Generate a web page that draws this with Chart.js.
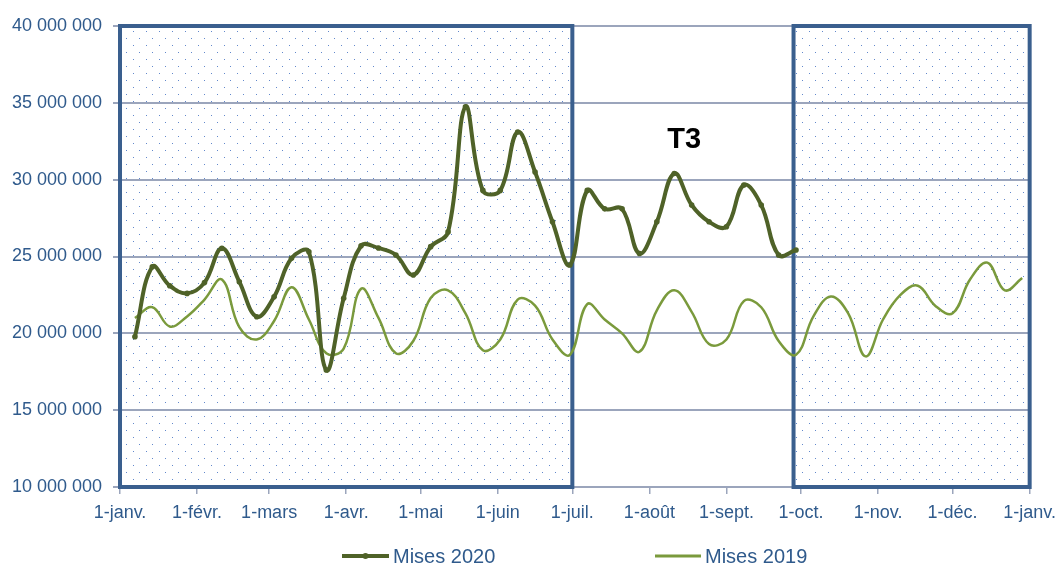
<!DOCTYPE html>
<html><head><meta charset="utf-8">
<script src="https://cdn.jsdelivr.net/npm/chart.js@4/dist/chart.umd.min.js"></script>
<style>html,body{margin:0;padding:0;background:#fff;}#wrap{width:1064px;height:565px;}</style>
</head><body><div id="wrap"><canvas id="c" width="1064" height="565"></canvas></div>
<script>
// Weekly dates (shared x categories)
const weeks = ['2020-01-07','2020-01-14','2020-01-21','2020-01-28','2020-02-04','2020-02-11','2020-02-18','2020-02-25',
 '2020-03-03','2020-03-10','2020-03-17','2020-03-24','2020-03-31','2020-04-07','2020-04-14','2020-04-21','2020-04-28',
 '2020-05-05','2020-05-12','2020-05-19','2020-05-26','2020-06-02','2020-06-09','2020-06-16','2020-06-23','2020-06-30',
 '2020-07-07','2020-07-14','2020-07-21','2020-07-28','2020-08-04','2020-08-11','2020-08-18','2020-08-25',
 '2020-09-01','2020-09-08','2020-09-15','2020-09-22','2020-09-29','2020-10-06','2020-10-13','2020-10-20','2020-10-27',
 '2020-11-03','2020-11-10','2020-11-17','2020-11-24','2020-12-01','2020-12-08','2020-12-15','2020-12-22','2020-12-29'];

const mises2020 = [19780000,24330000,23100000,22600000,23300000,25530000,23360000,21080000,22380000,24880000,25310000,17610000,
 22280000,25700000,25550000,25100000,23800000,25640000,26600000,34750000,29300000,29300000,33100000,30500000,27260000,24450000,
 29300000,28100000,28100000,25200000,27260000,30400000,28350000,27260000,26940000,29650000,28350000,25100000,25420000];

const mises2019 = [21000000,21700000,20450000,21100000,22200000,23500000,20400000,19600000,20800000,23000000,20900000,18700000,
 19000000,22900000,21000000,18700000,19500000,22300000,22800000,21300000,18900000,19600000,22200000,21800000,19600000,18600000,
 21900000,20900000,20000000,18800000,21500000,22800000,21400000,19300000,19600000,22100000,21700000,19500000,18600000,21100000,
 22400000,21300000,18500000,20900000,22500000,23100000,21800000,21300000,23500000,24600000,22800000,23600000];

const seriesNames = ['Mises 2020','Mises 2019'];
const monthTicks = ['2020-01-01','2020-02-01','2020-03-01','2020-04-01','2020-05-01','2020-06-01','2020-07-01',
 '2020-08-01','2020-09-01','2020-10-01','2020-11-01','2020-12-01','2021-01-01'];
const monthLabels = ['1-janv.','1-févr.','1-mars','1-avr.','1-mai','1-juin','1-juil.','1-août','1-sept.','1-oct.','1-nov.','1-déc.','1-janv.'];
const yTicks = [10000000,15000000,20000000,25000000,30000000,35000000,40000000];
const shadedPeriods = [['2020-01-01','2020-07-01'],['2020-09-28','2021-01-01']];
const annotationText = 'T3';
const annotationAt = ['2020-08-15', 32600000];

const day = s => (Date.parse(s) - Date.parse('2020-01-01')) / 86400000;
const fmt = v => String(Math.round(v)).replace(/\B(?=(\d{3})+(?!\d))/g, ' ');

const C2020 = '#4F6228', C2019 = '#7A9A3C', LBL = '#2F5A8C', GRID = '#9BA5BC', BOX = '#3A5F8E';
const FONT = "'Liberation Sans', Arial, sans-serif";

function makePattern(ctx) {
  const c = document.createElement('canvas'); c.width = 13; c.height = 14;
  const g = c.getContext('2d');
  g.fillStyle = 'rgba(70,115,195,0.85)';
  g.fillRect(3, 3, 1, 1); g.fillRect(9, 10, 1, 1);
  return ctx.createPattern(c, 'repeat');
}

const shadePlugin = {
  id: 'shade',
  beforeDraw(chart) {
    const { ctx, chartArea: a, scales: { x } } = chart;
    const pat = makePattern(ctx);
    ctx.save();
    shadedPeriods.forEach(([s, e]) => {
      const x0 = x.getPixelForValue(day(s)), x1 = x.getPixelForValue(day(e));
      ctx.fillStyle = pat; ctx.fillRect(x0, a.top, x1 - x0, a.bottom - a.top);
    });
    ctx.restore();
  },
  beforeDatasetsDraw(chart) {
    const { ctx, chartArea: a, scales: { x } } = chart;
    ctx.save();
    ctx.strokeStyle = BOX; ctx.lineWidth = 4;
    shadedPeriods.forEach(([s, e]) => {
      const x0 = x.getPixelForValue(day(s)), x1 = x.getPixelForValue(day(e));
      ctx.strokeRect(x0, a.top, x1 - x0, a.bottom - a.top);
    });
    ctx.restore();
  },
  afterDatasetsDraw(chart) {
    const { ctx, scales: { x, y } } = chart;
    ctx.save();
    ctx.font = "bold 29px " + FONT; ctx.fillStyle = '#000';
    ctx.textAlign = 'center'; ctx.textBaseline = 'middle';
    ctx.fillText(annotationText, x.getPixelForValue(day(annotationAt[0])), y.getPixelForValue(annotationAt[1]));
    ctx.restore();
  },
  afterDraw(chart) {
    const ctx = chart.ctx, cx = chart.width / 2, ly = 556;
    const items = [
      { name: seriesNames[0], color: C2020, w: 4, x0: cx - 190, x1: cx - 143, marker: true },
      { name: seriesNames[1], color: C2019, w: 3, x0: cx + 123, x1: cx + 169, marker: false }
    ];
    ctx.save();
    ctx.font = "20px " + FONT; ctx.textBaseline = 'middle'; ctx.textAlign = 'left';
    items.forEach(it => {
      ctx.strokeStyle = it.color; ctx.lineWidth = it.w;
      ctx.beginPath(); ctx.moveTo(it.x0, ly); ctx.lineTo(it.x1, ly); ctx.stroke();
      if (it.marker) { ctx.fillStyle = it.color; ctx.beginPath(); ctx.arc((it.x0 + it.x1) / 2, ly, 3, 0, Math.PI * 2); ctx.fill(); }
      ctx.fillStyle = LBL; ctx.fillText(it.name, it.x1 + 4, ly + 1);
    });
    ctx.restore();
  }
};

new Chart(document.getElementById('c'), {
  type: 'line',
  data: {
    datasets: [
      { label: seriesNames[0], data: mises2020.map((v, i) => ({ x: day(weeks[i]), y: v })),
        borderColor: C2020, backgroundColor: C2020, borderWidth: 4, pointRadius: 2.8, pointBorderWidth: 0,
        pointBackgroundColor: C2020, tension: 0.4 },
      { label: seriesNames[1], data: mises2019.map((v, i) => ({ x: day(weeks[i]), y: v })),
        borderColor: C2019, backgroundColor: C2019, borderWidth: 2.5, pointRadius: 0, tension: 0.4 }
    ]
  },
  options: {
    responsive: false, animation: false, devicePixelRatio: 1,
    layout: { padding: { top: 26, right: 32, bottom: 0, left: 0 } },
    plugins: { legend: { display: false }, tooltip: { enabled: false } },
    scales: {
      x: {
        type: 'linear', min: day(monthTicks[0]), max: day(monthTicks[monthTicks.length - 1]),
        afterBuildTicks: s => { s.ticks = monthTicks.map(d => ({ value: day(d) })); },
        afterFit: s => { s.height = 78; },
        ticks: { autoSkip: false, maxRotation: 0, padding: 8, color: LBL, font: { family: FONT, size: 18 },
          callback: (v, i) => monthLabels[i] },
        grid: { drawOnChartArea: false, drawTicks: true, tickLength: 7, color: GRID, lineWidth: 1.5 },
        border: { color: GRID, width: 2 }
      },
      y: {
        min: yTicks[0], max: yTicks[yTicks.length - 1],
        afterBuildTicks: s => { s.ticks = yTicks.map(v => ({ value: v })); },
        afterFit: s => { s.width = 120; },
        ticks: { padding: 11, color: LBL, font: { family: FONT, size: 18 }, callback: v => fmt(v) },
        grid: { color: GRID, lineWidth: 2, tickLength: 7 },
        border: { display: false }
      }
    }
  },
  plugins: [shadePlugin]
});
</script></body></html>
